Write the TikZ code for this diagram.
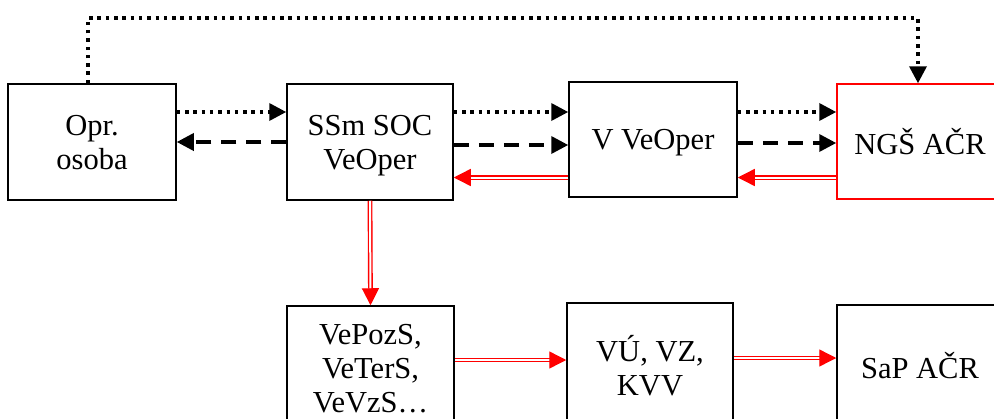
\documentclass[tikz,border=0pt]{standalone}
\usepackage{fontspec}
\setmainfont{Liberation Serif}
\usetikzlibrary{arrows.meta}

\begin{document}
\begin{tikzpicture}[x=1pt,y=-1pt,>={Triangle[length=17pt,width=17pt]},
    box/.style={draw,line width=1.5pt,align=center,inner sep=0pt,
                font=\fontsize{30.5}{34}\selectfont},
    dotarr/.style={->,line width=3.5pt,dash pattern=on 3.5pt off 4.8pt},
    dasharr/.style={->,line width=3.5pt,dash pattern=on 15pt off 10pt},
    redarr/.style={-{Triangle[length=17pt,width=17pt]},draw=red,line width=1.4pt,
                   double=white,double distance=2pt}]
   \useasboundingbox (0,0) rectangle (994,418);
   \clip (0,0) rectangle (994,418);
   \node[box,text depth=0pt,minimum width=168pt,minimum height=116pt] (opr) at (92,142)    {Opr.\\osoba};
   \node[box,text depth=0pt,minimum width=166pt,minimum height=116pt] (ssm) at (370,142)   {SSm SOC\\VeOper};
   \node[box,text depth=0pt,minimum width=168pt,minimum height=115pt] (vop) at (653,139.5) {V VeOper};
   \node[box,draw=red,minimum width=166pt,minimum height=115pt] (ngs) at (920,141.5) {NGŠ AČR};
   \node[box,minimum width=167pt,minimum height=126pt] (vep) at (370.5,369) {VePozS,\\VeTerS,\\VeVzS…};
   \node[box,minimum width=166pt,minimum height=126pt] (vuz) at (650,366)   {VÚ, VZ,\\KVV};
   \node[box,minimum width=166pt,minimum height=122pt] (sap) at (920,366)   {SaP AČR};
   \coordinate (top) at (500,18);

   % dotted
   \draw[dotarr] ([xshift=-4pt]opr.north) |- (top) -| ([xshift=-2pt]ngs.north);
   \draw[dotarr] ([yshift=30pt]opr.east) -- ([yshift=30pt]opr.east -| ssm.west);
   \draw[dotarr] ([yshift=30pt]ssm.east) -- ([yshift=30pt]ssm.east -| vop.west);
   \draw[dotarr] ([yshift=30pt]vop.east |- ssm.east) -- ([yshift=30pt]ssm.east -| ngs.west);
   % dashed
   \draw[dasharr] (ssm.west) -- (ssm.west -| opr.east);
   \draw[dasharr] ([yshift=-3pt]ssm.east) -- ([yshift=-3pt]ssm.east -| vop.west);
   \draw[dasharr] ([yshift=-1pt]vop.east |- ssm.east) -- ([yshift=-1pt]ssm.east -| ngs.west);
   % red
   \draw[redarr] ([yshift=-36pt]ngs.west) -- ([yshift=-36pt]ngs.west -| vop.east);
   \draw[redarr] ([yshift=-36pt]ngs.west -| vop.west) -- ([yshift=-36pt]ngs.west -| ssm.east);
   \draw[redarr] (ssm.south) -- (vep.north);
   \draw[redarr] ([yshift=9pt]vep.east) -- ([yshift=9pt]vep.east -| vuz.west);
   \draw[redarr] ([yshift=8pt]vuz.east) -- ([yshift=8pt]vuz.east -| sap.west);
\end{tikzpicture}
\end{document}
